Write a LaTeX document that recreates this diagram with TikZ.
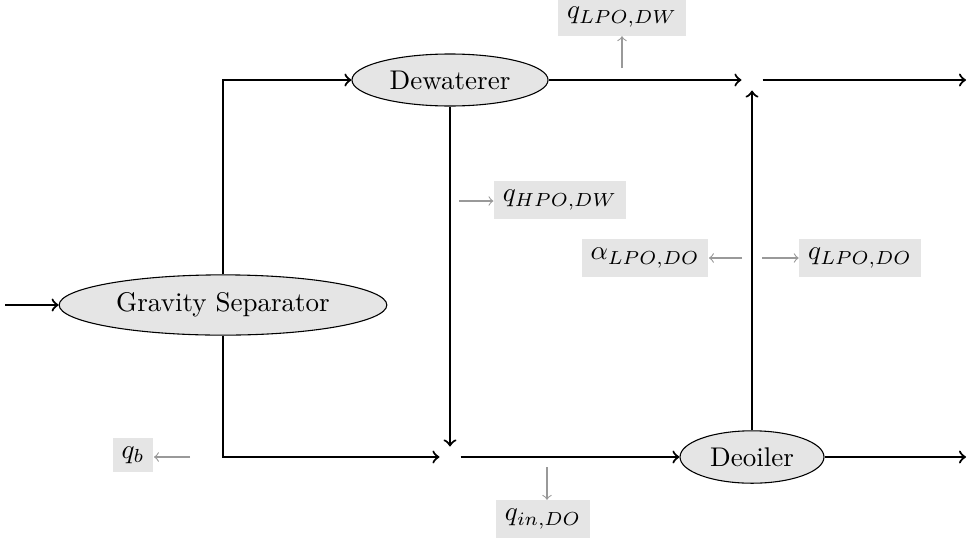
\documentclass[tikz,border=0pt]{standalone}
\usetikzlibrary{shapes.geometric}
\begin{document}
\begin{tikzpicture}[x=0.37pt,y=-0.37pt,
  unit/.style={ellipse,draw=black,fill=black!10,thin},
  junc/.style={circle,inner sep=0pt,minimum size=7.4pt},
  lab/.style={fill=black!10},
  flow/.style={->,thick},
  info/.style={->,thin,draw=black!40}]
\useasboundingbox (0,0) rectangle (971,541);
% units
\node[unit] (gs) at (223,305) {Gravity Separator};
\node[unit] (dw) at (450,80) {Dewaterer};
\node[unit] (do) at (752,457) {Deoiler};
% junctions
\node[junc] (j1) at (752,80) {};
\node[junc] (j2) at (450,457) {};
% free ends
\coordinate (in) at (5,305);
\coordinate (out1) at (966,80);
\coordinate (out2) at (966,457);
% main flows
\draw[flow] (in) -- (gs.west);
\draw[flow] (gs.north) |- (dw.west);
\draw[flow] (gs.south) |- (j2);
\draw[flow] (dw.east) -- (j1);
\draw[flow] (dw.south) -- (j2);
\draw[flow] (j2) -- (do.west);
\draw[flow] (do.north) -- (j1);
\draw[flow] (j1) -- (out1);
\draw[flow] (do.east) -- (out2);
% labels
\node[lab] (qlpodw) at (622,17) {$q_{LPO,DW}$};
\node[lab] (qhpodw) at (560,200) {$q_{HPO,DW}$};
\node[lab] (alpodo) at (645,258) {$\alpha_{LPO,DO}$};
\node[lab] (qlpodo) at (860,258) {$q_{LPO,DO}$};
\node[lab] (qb) at (133,455) {$q_b$};
\node[lab] (qindo) at (543,519) {$q_{in,DO}$};
% info arrow starts
\coordinate (s1) at (622,68);
\coordinate (s2) at (459,201);
\coordinate (s3) at (742,258);
\coordinate (s4) at (762,258);
\coordinate (s5) at (190,457);
\coordinate (s6) at (547,467);
\draw[info] (s1) -- (s1 |- qlpodw.south);
\draw[info] (s2) -- (qhpodw.west |- s2);
\draw[info] (s3) -- (alpodo.east |- s3);
\draw[info] (s4) -- (qlpodo.west |- s4);
\draw[info] (s5) -- (qb.east |- s5);
\draw[info] (s6) -- (s6 |- qindo.north);
\end{tikzpicture}
\end{document}
